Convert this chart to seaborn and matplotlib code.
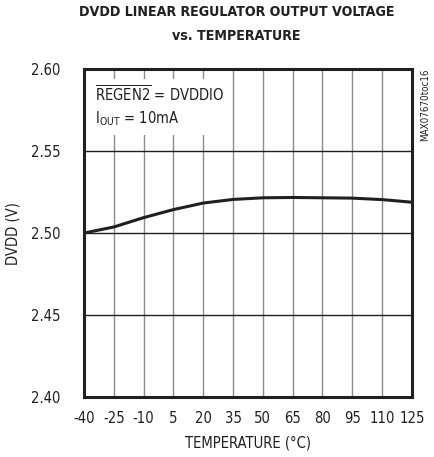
import numpy as np
import pandas as pd
import matplotlib
matplotlib.use("Agg")
import matplotlib.pyplot as plt
from matplotlib import font_manager
import seaborn as sns

# values
temperature = [-40, -25, -10, 5, 20, 35, 50, 65, 80, 95, 110, 125]
dvdd = [2.5000, 2.5037, 2.5094, 2.5143, 2.5183, 2.5205, 2.5215, 2.5217, 2.5215, 2.5213, 2.5204, 2.5188]
x_ticks = [-40, -25, -10, 5, 20, 35, 50, 65, 80, 95, 110, 125]
y_ticks = [2.40, 2.45, 2.50, 2.55, 2.60]

df = pd.DataFrame({"Temperature": temperature, "DVDD": dvdd})

sns.set_style("white")

# look for a narrow face, the datasheet uses a condensed sans
narrow = None
for f in font_manager.fontManager.ttflist:
    nm = f.name.lower()
    if "narrow" in nm or "condensed" in nm:
        narrow = f.name
        break
    if f.stretch not in ("normal", 500, "medium"):
        narrow = f.name
        plt.rcParams["font.stretch"] = f.stretch
        break
if narrow is None:
    narrow = "Roboto"
plt.rcParams["font.family"] = [narrow, "DejaVu Sans"]

fs = 10.6
ink = "#231f20"

fig = plt.figure(figsize=(4.35, 4.57), dpi=100)
ax = fig.add_axes([0.193, 0.131, 0.754, 0.718])

sns.lineplot(x="Temperature", y="DVDD", data=df, ax=ax, color=ink, linewidth=2.2)

ax.set_xlim(-40, 125)
ax.set_ylim(2.40, 2.60)
ax.set_xticks(x_ticks)
ax.set_yticks(y_ticks)
ax.set_xticklabels([str(t) for t in x_ticks], fontsize=fs)
ax.set_yticklabels(["%.2f" % v for v in y_ticks], fontsize=fs)
ax.tick_params(axis="x", length=0, pad=10, colors=ink)
ax.tick_params(axis="y", length=0, pad=17, colors=ink)

# grid: vertical gray, horizontal dark
for t in x_ticks[1:-1]:
    ax.axvline(t, color="#8c8c8c", linewidth=1.0, zorder=0)
for v in y_ticks[1:-1]:
    ax.axhline(v, color=ink, linewidth=1.0, zorder=0)

for s in ax.spines.values():
    s.set_color(ink)
    s.set_linewidth(2.2)

ax.set_xlabel("TEMPERATURE (°C)", fontsize=fs, color=ink, labelpad=7)
ax.set_ylabel("DVDD (V)", fontsize=fs, color=ink, labelpad=7)

ax.text(-34.5, 2.5905, r"$\overline{\mathrm{REGEN2}}$ = DVDDIO" + "\n" + r"I$_{\mathrm{OUT}}$ = 10mA",
        fontsize=fs, color=ink, va="top", ha="left", linespacing=1.3,
        bbox=dict(facecolor="white", edgecolor="none", pad=5), zorder=3)

fig.text(0.977, 0.849, "MAX07670toc16", rotation=90, fontsize=7, color=ink,
         va="top", ha="center")

fig.suptitle("DVDD LINEAR REGULATOR OUTPUT VOLTAGE\nvs. TEMPERATURE", x=0.544, y=0.988,
             fontsize=10.2, fontweight="black", color=ink, linespacing=1.85)

fig.savefig("out.png", dpi=100)
